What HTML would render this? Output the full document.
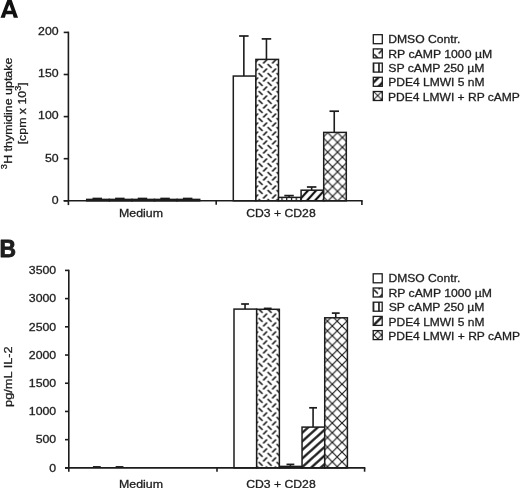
<!DOCTYPE html>
<html><head><meta charset="utf-8"><style>
html,body{margin:0;padding:0;background:#fff;}
svg{display:block;will-change:transform;}
</style></head><body>
<svg width="520" height="488" viewBox="0 0 520 488">
<defs><pattern id="dA" patternUnits="userSpaceOnUse" width="9.0" height="9.0" x="260.6" y="66.0"><rect width="9.0" height="9.0" fill="#fff"/><path d="M-1.95,-1.95 L1.95,1.95 M7.05,-1.95 L10.95,1.95 M-1.95,7.05 L1.95,10.95 M7.05,7.05 L10.95,10.95 M2.55,6.45 L6.45,2.55" stroke="#111" stroke-width="1.55" stroke-linecap="butt"/></pattern><pattern id="sA" patternUnits="userSpaceOnUse" width="20" height="5.95" x="0" y="352.860" patternTransform="rotate(-47.5)"><rect width="20" height="5.95" fill="#fff"/><rect x="0" y="1.875" width="20" height="2.2" fill="#111"/></pattern><pattern id="cA" patternUnits="userSpaceOnUse" width="9.8" height="9.8" x="332.6" y="137.5"><rect width="9.8" height="9.8" fill="#fff"/><path d="M0,0 L9.8,9.8 M9.8,0 L0,9.8" stroke="#1a1a1a" stroke-width="1.2"/></pattern><pattern id="vA" patternUnits="userSpaceOnUse" width="4.75" height="4.75" x="281.4" y="0"><rect width="4.75" height="4.75" fill="#fff"/><rect x="0" y="0" width="1.2" height="4.75" fill="#111"/></pattern><pattern id="dB" patternUnits="userSpaceOnUse" width="9.0" height="9.0" x="260.6" y="301.9"><rect width="9.0" height="9.0" fill="#fff"/><path d="M-1.95,-1.95 L1.95,1.95 M7.05,-1.95 L10.95,1.95 M-1.95,7.05 L1.95,10.95 M7.05,7.05 L10.95,10.95 M2.55,6.45 L6.45,2.55" stroke="#111" stroke-width="1.55" stroke-linecap="butt"/></pattern><pattern id="sB" patternUnits="userSpaceOnUse" width="20" height="6.38" x="0" y="527.023" patternTransform="rotate(-42)"><rect width="20" height="6.38" fill="#fff"/><rect x="0" y="2.090" width="20" height="2.2" fill="#111"/></pattern><pattern id="cB" patternUnits="userSpaceOnUse" width="9.7" height="9.7" x="332.3" y="326.0"><rect width="9.7" height="9.7" fill="#fff"/><path d="M0,0 L9.7,9.7 M9.7,0 L0,9.7" stroke="#1a1a1a" stroke-width="1.2"/></pattern><pattern id="dLA" patternUnits="userSpaceOnUse" width="9.0" height="9.0" x="376.1" y="47.2"><rect width="9.0" height="9.0" fill="#fff"/><path d="M-1.95,-1.95 L1.95,1.95 M7.05,-1.95 L10.95,1.95 M-1.95,7.05 L1.95,10.95 M7.05,7.05 L10.95,10.95 M2.55,6.45 L6.45,2.55" stroke="#111" stroke-width="1.55" stroke-linecap="butt"/></pattern><pattern id="sLA" patternUnits="userSpaceOnUse" width="20" height="6.5" x="0" y="319.120" patternTransform="rotate(-45)"><rect width="20" height="6.5" fill="#fff"/><rect x="0" y="2.100" width="20" height="2.3" fill="#111"/></pattern><pattern id="cLA" patternUnits="userSpaceOnUse" width="7.4" height="7.4" x="377.7" y="95.6"><rect width="7.4" height="7.4" fill="#fff"/><path d="M0,0 L7.4,7.4 M7.4,0 L0,7.4" stroke="#1a1a1a" stroke-width="1.0"/></pattern><pattern id="vL" patternUnits="userSpaceOnUse" width="5.6" height="5.6" x="372.6" y="0"><rect width="5.6" height="5.6" fill="#fff"/><rect x="0" y="0" width="1.6" height="5.6" fill="#111"/></pattern><pattern id="dLB" patternUnits="userSpaceOnUse" width="9.0" height="9.0" x="376.0" y="291.7"><rect width="9.0" height="9.0" fill="#fff"/><path d="M-1.95,-1.95 L1.95,1.95 M7.05,-1.95 L10.95,1.95 M-1.95,7.05 L1.95,10.95 M7.05,7.05 L10.95,10.95 M2.55,6.45 L6.45,2.55" stroke="#111" stroke-width="1.55" stroke-linecap="butt"/></pattern><pattern id="sLB" patternUnits="userSpaceOnUse" width="20" height="6.5" x="0" y="490.876" patternTransform="rotate(-45)"><rect width="20" height="6.5" fill="#fff"/><rect x="0" y="2.100" width="20" height="2.3" fill="#111"/></pattern><pattern id="cLB" patternUnits="userSpaceOnUse" width="7.4" height="7.4" x="377.8" y="331.3"><rect width="7.4" height="7.4" fill="#fff"/><path d="M0,0 L7.4,7.4 M7.4,0 L0,7.4" stroke="#1a1a1a" stroke-width="1.0"/></pattern></defs>
<rect width="520" height="488" fill="#fff"/>
<g font-family="Liberation Sans, sans-serif" fill="#1e1e1e">
<path d="M7.35,-0.2 L11.65,-0.2 L18.05,17.65 L13.7,17.65 L12.75,14.35 L5.85,14.35 L4.9,17.65 L0.5,17.65 Z M9.3,4.6 L6.95,10.8 L11.65,10.8 Z" fill="#111" fill-rule="evenodd"/>
<line x1="243.85" y1="36.00" x2="243.85" y2="76.05" stroke="#1c1c1c" stroke-width="1.6"/>
<line x1="239.10" y1="36.00" x2="248.60" y2="36.00" stroke="#1c1c1c" stroke-width="1.7000000000000002"/>
<rect x="233.30" y="76.05" width="22.60" height="124.75" fill="#fff" stroke="#1c1c1c" stroke-width="1.5"/>
<line x1="266.45" y1="38.90" x2="266.45" y2="59.40" stroke="#1c1c1c" stroke-width="1.6"/>
<line x1="261.70" y1="38.90" x2="271.20" y2="38.90" stroke="#1c1c1c" stroke-width="1.7000000000000002"/>
<rect x="255.90" y="59.40" width="22.60" height="141.40" fill="url(#dA)" stroke="#1c1c1c" stroke-width="1.5"/>
<line x1="289.05" y1="195.60" x2="289.05" y2="197.40" stroke="#1c1c1c" stroke-width="1.6"/>
<line x1="284.30" y1="195.60" x2="293.80" y2="195.60" stroke="#1c1c1c" stroke-width="1.7000000000000002"/>
<rect x="278.50" y="197.40" width="22.60" height="3.40" fill="url(#vA)" stroke="#1c1c1c" stroke-width="1.5"/>
<line x1="311.65" y1="187.00" x2="311.65" y2="190.20" stroke="#1c1c1c" stroke-width="1.6"/>
<line x1="306.90" y1="187.00" x2="316.40" y2="187.00" stroke="#1c1c1c" stroke-width="1.7000000000000002"/>
<rect x="301.10" y="190.20" width="22.60" height="10.60" fill="url(#sA)" stroke="#1c1c1c" stroke-width="1.5"/>
<line x1="334.25" y1="111.20" x2="334.25" y2="132.40" stroke="#1c1c1c" stroke-width="1.6"/>
<line x1="329.50" y1="111.20" x2="339.00" y2="111.20" stroke="#1c1c1c" stroke-width="1.7000000000000002"/>
<rect x="323.70" y="132.40" width="22.60" height="68.40" fill="url(#cA)" stroke="#1c1c1c" stroke-width="1.5"/>
<line x1="97.25" y1="198.50" x2="97.25" y2="199.40" stroke="#1c1c1c" stroke-width="1.6"/>
<line x1="92.50" y1="198.50" x2="102.00" y2="198.50" stroke="#1c1c1c" stroke-width="1.7000000000000002"/>
<rect x="86.70" y="199.40" width="22.60" height="1.40" fill="#fff" stroke="#1c1c1c" stroke-width="1.5"/>
<line x1="119.85" y1="198.50" x2="119.85" y2="199.40" stroke="#1c1c1c" stroke-width="1.6"/>
<line x1="115.10" y1="198.50" x2="124.60" y2="198.50" stroke="#1c1c1c" stroke-width="1.7000000000000002"/>
<rect x="109.30" y="199.40" width="22.60" height="1.40" fill="#fff" stroke="#1c1c1c" stroke-width="1.5"/>
<line x1="142.45" y1="198.50" x2="142.45" y2="199.40" stroke="#1c1c1c" stroke-width="1.6"/>
<line x1="137.70" y1="198.50" x2="147.20" y2="198.50" stroke="#1c1c1c" stroke-width="1.7000000000000002"/>
<rect x="131.90" y="199.40" width="22.60" height="1.40" fill="#fff" stroke="#1c1c1c" stroke-width="1.5"/>
<line x1="165.05" y1="198.50" x2="165.05" y2="199.40" stroke="#1c1c1c" stroke-width="1.6"/>
<line x1="160.30" y1="198.50" x2="169.80" y2="198.50" stroke="#1c1c1c" stroke-width="1.7000000000000002"/>
<rect x="154.50" y="199.40" width="22.60" height="1.40" fill="#fff" stroke="#1c1c1c" stroke-width="1.5"/>
<line x1="187.65" y1="198.50" x2="187.65" y2="199.40" stroke="#1c1c1c" stroke-width="1.6"/>
<line x1="182.90" y1="198.50" x2="192.40" y2="198.50" stroke="#1c1c1c" stroke-width="1.7000000000000002"/>
<rect x="177.10" y="199.40" width="22.60" height="1.40" fill="#fff" stroke="#1c1c1c" stroke-width="1.5"/>
<line x1="68.40" y1="31.65" x2="68.40" y2="205.10" stroke="#1c1c1c" stroke-width="1.6"/>
<line x1="63.70" y1="200.80" x2="362.65" y2="200.80" stroke="#1c1c1c" stroke-width="1.6"/>
<line x1="216.20" y1="200.80" x2="216.20" y2="204.70" stroke="#1c1c1c" stroke-width="1.6"/>
<line x1="361.90" y1="200.80" x2="361.90" y2="205.10" stroke="#1c1c1c" stroke-width="1.6"/>
<line x1="63.70" y1="32.40" x2="68.40" y2="32.40" stroke="#1c1c1c" stroke-width="1.6"/>
<text transform="translate(58.60,35.20) scale(1.0800,1)" text-anchor="end" font-size="11.4" font-weight="normal" stroke="#1e1e1e" stroke-width="0.3">200</text>
<line x1="63.70" y1="74.50" x2="68.40" y2="74.50" stroke="#1c1c1c" stroke-width="1.6"/>
<text transform="translate(58.60,77.30) scale(1.0800,1)" text-anchor="end" font-size="11.4" font-weight="normal" stroke="#1e1e1e" stroke-width="0.3">150</text>
<line x1="63.70" y1="116.60" x2="68.40" y2="116.60" stroke="#1c1c1c" stroke-width="1.6"/>
<text transform="translate(58.60,119.40) scale(1.0800,1)" text-anchor="end" font-size="11.4" font-weight="normal" stroke="#1e1e1e" stroke-width="0.3">100</text>
<line x1="63.70" y1="158.70" x2="68.40" y2="158.70" stroke="#1c1c1c" stroke-width="1.6"/>
<text transform="translate(58.60,161.50) scale(1.0800,1)" text-anchor="end" font-size="11.4" font-weight="normal" stroke="#1e1e1e" stroke-width="0.3">50</text>
<line x1="63.70" y1="200.80" x2="68.40" y2="200.80" stroke="#1c1c1c" stroke-width="1.6"/>
<text transform="translate(58.60,203.60) scale(1.0800,1)" text-anchor="end" font-size="11.4" font-weight="normal" stroke="#1e1e1e" stroke-width="0.3">0</text>
<text transform="translate(119.03,216.80) scale(1.0849,1)" text-anchor="start" font-size="11.4" font-weight="normal" stroke="#1e1e1e" stroke-width="0.3">Medium</text>
<text transform="translate(246.24,217.10) scale(1.0695,1)" text-anchor="start" font-size="11.4" font-weight="normal" stroke="#1e1e1e" stroke-width="0.3">CD3 + CD28</text>
<text transform="translate(12.00,169.32) rotate(-90) scale(1.0617,1)" text-anchor="start" font-size="11.7" font-weight="normal" stroke="#1e1e1e" stroke-width="0.3"><tspan font-size="8.6" dy="-5.0">3</tspan><tspan dy="5.0" dx="0.4">H thymidine uptake</tspan></text>
<text transform="translate(25.90,144.33) rotate(-90) scale(1.0558,1)" text-anchor="start" font-size="11.7" font-weight="normal" stroke="#1e1e1e" stroke-width="0.3">[cpm x 10<tspan font-size="8.6" dy="-5.0">3</tspan><tspan dy="5.0">]</tspan></text>
<rect x="373.30" y="34.70" width="9.00" height="9.00" fill="#fff" stroke="#1c1c1c" stroke-width="1.3"/>
<text transform="translate(388.23,43.20) scale(1.0668,1)" text-anchor="start" font-size="11.4" font-weight="normal" stroke="#1e1e1e" stroke-width="0.3">DMSO Contr.</text>
<rect x="373.30" y="48.90" width="9.00" height="9.00" fill="url(#dLA)" stroke="#1c1c1c" stroke-width="1.3"/>
<text transform="translate(388.19,57.62) scale(1.0751,1)" text-anchor="start" font-size="11.4" font-weight="normal" stroke="#1e1e1e" stroke-width="0.3">RP cAMP 1000 µM</text>
<rect x="373.30" y="63.10" width="9.00" height="9.00" fill="url(#vL)" stroke="#1c1c1c" stroke-width="1.3"/>
<text transform="translate(388.25,72.04) scale(1.0739,1)" text-anchor="start" font-size="11.4" font-weight="normal" stroke="#1e1e1e" stroke-width="0.3">SP cAMP 250 µM</text>
<rect x="373.30" y="77.30" width="9.00" height="9.00" fill="url(#sLA)" stroke="#1c1c1c" stroke-width="1.3"/>
<text transform="translate(388.17,86.46) scale(1.0585,1)" text-anchor="start" font-size="11.4" font-weight="normal" stroke="#1e1e1e" stroke-width="0.3">PDE4 LMWI 5 nM</text>
<rect x="373.30" y="91.50" width="9.00" height="9.00" fill="url(#cLA)" stroke="#1c1c1c" stroke-width="1.3"/>
<text transform="translate(388.05,100.88) scale(1.0560,1)" text-anchor="start" font-size="11.4" font-weight="normal" stroke="#1e1e1e" stroke-width="0.3">PDE4 LMWI + RP cAMP</text>
<text transform="translate(-0.43,256.50) scale(0.9827,1)" text-anchor="start" font-size="23.3" font-weight="bold" stroke="#111" stroke-width="0.8" stroke-linejoin="round">B</text>
<line x1="245.04" y1="304.00" x2="245.04" y2="309.10" stroke="#1c1c1c" stroke-width="1.6"/>
<line x1="241.14" y1="304.00" x2="248.94" y2="304.00" stroke="#1c1c1c" stroke-width="1.7000000000000002"/>
<rect x="234.00" y="309.10" width="22.68" height="158.80" fill="#fff" stroke="#1c1c1c" stroke-width="1.5"/>
<line x1="267.72" y1="308.40" x2="267.72" y2="309.30" stroke="#1c1c1c" stroke-width="1.6"/>
<line x1="263.82" y1="308.40" x2="271.62" y2="308.40" stroke="#1c1c1c" stroke-width="1.7000000000000002"/>
<rect x="256.68" y="309.30" width="22.68" height="158.60" fill="url(#dB)" stroke="#1c1c1c" stroke-width="1.5"/>
<line x1="290.40" y1="464.40" x2="290.40" y2="466.40" stroke="#1c1c1c" stroke-width="1.6"/>
<line x1="286.50" y1="464.40" x2="294.30" y2="464.40" stroke="#1c1c1c" stroke-width="1.7000000000000002"/>
<rect x="279.36" y="466.40" width="22.68" height="1.50" fill="url(#vA)" stroke="#1c1c1c" stroke-width="1.5"/>
<line x1="313.08" y1="407.80" x2="313.08" y2="427.10" stroke="#1c1c1c" stroke-width="1.6"/>
<line x1="309.18" y1="407.80" x2="316.98" y2="407.80" stroke="#1c1c1c" stroke-width="1.7000000000000002"/>
<rect x="302.04" y="427.10" width="22.68" height="40.80" fill="url(#sB)" stroke="#1c1c1c" stroke-width="1.5"/>
<line x1="335.76" y1="313.10" x2="335.76" y2="317.80" stroke="#1c1c1c" stroke-width="1.6"/>
<line x1="331.86" y1="313.10" x2="339.66" y2="313.10" stroke="#1c1c1c" stroke-width="1.7000000000000002"/>
<rect x="324.72" y="317.80" width="22.68" height="150.10" fill="url(#cB)" stroke="#1c1c1c" stroke-width="1.5"/>
<line x1="96.84" y1="466.90" x2="96.84" y2="467.90" stroke="#1c1c1c" stroke-width="1.6"/>
<line x1="92.94" y1="466.90" x2="100.74" y2="466.90" stroke="#1c1c1c" stroke-width="1.7000000000000002"/>
<line x1="119.52" y1="466.90" x2="119.52" y2="467.90" stroke="#1c1c1c" stroke-width="1.6"/>
<line x1="115.62" y1="466.90" x2="123.42" y2="466.90" stroke="#1c1c1c" stroke-width="1.7000000000000002"/>
<line x1="68.80" y1="269.65" x2="68.80" y2="471.70" stroke="#1c1c1c" stroke-width="1.6"/>
<line x1="65.00" y1="467.90" x2="365.35" y2="467.90" stroke="#1c1c1c" stroke-width="1.6"/>
<line x1="217.00" y1="467.90" x2="217.00" y2="471.80" stroke="#1c1c1c" stroke-width="1.6"/>
<line x1="364.60" y1="467.90" x2="364.60" y2="471.70" stroke="#1c1c1c" stroke-width="1.6"/>
<line x1="65.00" y1="270.40" x2="68.80" y2="270.40" stroke="#1c1c1c" stroke-width="1.6"/>
<text transform="translate(56.20,274.10) scale(1.0800,1)" text-anchor="end" font-size="11.4" font-weight="normal" stroke="#1e1e1e" stroke-width="0.3">3500</text>
<line x1="65.00" y1="298.61" x2="68.80" y2="298.61" stroke="#1c1c1c" stroke-width="1.6"/>
<text transform="translate(56.20,302.31) scale(1.0800,1)" text-anchor="end" font-size="11.4" font-weight="normal" stroke="#1e1e1e" stroke-width="0.3">3000</text>
<line x1="65.00" y1="326.82" x2="68.80" y2="326.82" stroke="#1c1c1c" stroke-width="1.6"/>
<text transform="translate(56.20,330.52) scale(1.0800,1)" text-anchor="end" font-size="11.4" font-weight="normal" stroke="#1e1e1e" stroke-width="0.3">2500</text>
<line x1="65.00" y1="355.03" x2="68.80" y2="355.03" stroke="#1c1c1c" stroke-width="1.6"/>
<text transform="translate(56.20,358.73) scale(1.0800,1)" text-anchor="end" font-size="11.4" font-weight="normal" stroke="#1e1e1e" stroke-width="0.3">2000</text>
<line x1="65.00" y1="383.24" x2="68.80" y2="383.24" stroke="#1c1c1c" stroke-width="1.6"/>
<text transform="translate(56.20,386.94) scale(1.0800,1)" text-anchor="end" font-size="11.4" font-weight="normal" stroke="#1e1e1e" stroke-width="0.3">1500</text>
<line x1="65.00" y1="411.45" x2="68.80" y2="411.45" stroke="#1c1c1c" stroke-width="1.6"/>
<text transform="translate(56.20,415.15) scale(1.0800,1)" text-anchor="end" font-size="11.4" font-weight="normal" stroke="#1e1e1e" stroke-width="0.3">1000</text>
<line x1="65.00" y1="439.66" x2="68.80" y2="439.66" stroke="#1c1c1c" stroke-width="1.6"/>
<text transform="translate(56.20,443.36) scale(1.0800,1)" text-anchor="end" font-size="11.4" font-weight="normal" stroke="#1e1e1e" stroke-width="0.3">500</text>
<line x1="65.00" y1="467.87" x2="68.80" y2="467.87" stroke="#1c1c1c" stroke-width="1.6"/>
<text transform="translate(56.20,471.57) scale(1.0800,1)" text-anchor="end" font-size="11.4" font-weight="normal" stroke="#1e1e1e" stroke-width="0.3">0</text>
<text transform="translate(119.03,487.60) scale(1.0849,1)" text-anchor="start" font-size="11.4" font-weight="normal" stroke="#1e1e1e" stroke-width="0.3">Medium</text>
<text transform="translate(246.24,487.70) scale(1.0695,1)" text-anchor="start" font-size="11.4" font-weight="normal" stroke="#1e1e1e" stroke-width="0.3">CD3 + CD28</text>
<text transform="translate(12.00,406.95) rotate(-90) scale(1.0925,1)" text-anchor="start" font-size="11.7" font-weight="normal" stroke="#1e1e1e" stroke-width="0.3">pg/mL IL-2</text>
<rect x="373.20" y="273.80" width="9.00" height="9.00" fill="#fff" stroke="#1c1c1c" stroke-width="1.3"/>
<text transform="translate(388.47,282.30) scale(1.0610,1)" text-anchor="start" font-size="11.4" font-weight="normal" stroke="#1e1e1e" stroke-width="0.3">DMSO Contr.</text>
<rect x="373.20" y="288.00" width="9.00" height="9.00" fill="url(#dLB)" stroke="#1c1c1c" stroke-width="1.3"/>
<text transform="translate(388.44,296.72) scale(1.0708,1)" text-anchor="start" font-size="11.4" font-weight="normal" stroke="#1e1e1e" stroke-width="0.3">RP cAMP 1000 µM</text>
<rect x="373.20" y="302.20" width="9.00" height="9.00" fill="url(#vL)" stroke="#1c1c1c" stroke-width="1.3"/>
<text transform="translate(388.63,311.14) scale(1.0689,1)" text-anchor="start" font-size="11.4" font-weight="normal" stroke="#1e1e1e" stroke-width="0.3">SP cAMP 250 µM</text>
<rect x="373.20" y="316.40" width="9.00" height="9.00" fill="url(#sLB)" stroke="#1c1c1c" stroke-width="1.3"/>
<text transform="translate(388.50,325.56) scale(1.0532,1)" text-anchor="start" font-size="11.4" font-weight="normal" stroke="#1e1e1e" stroke-width="0.3">PDE4 LMWI 5 nM</text>
<rect x="373.20" y="330.60" width="9.00" height="9.00" fill="url(#cLB)" stroke="#1c1c1c" stroke-width="1.3"/>
<text transform="translate(388.25,339.98) scale(1.0560,1)" text-anchor="start" font-size="11.4" font-weight="normal" stroke="#1e1e1e" stroke-width="0.3">PDE4 LMWI + RP cAMP</text>
</g>
</svg>
</body></html>
